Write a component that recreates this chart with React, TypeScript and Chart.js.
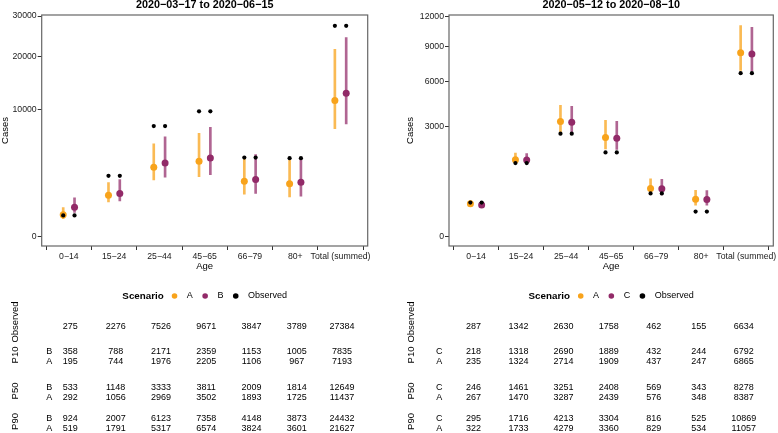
import React, { useEffect, useRef } from 'react';
import { Chart, registerables, LinearScale } from 'chart.js';

// ---------- data ----------
const categories = ['0−14', '15−24', '25−44', '45−65', '66−79', '80+', 'Total (summed)'];

const leftTitle = '2020−03−17 to 2020−06−15';
const leftScenarioNames = ['A', 'B'];
const leftObserved = [275, 2276, 7526, 9671, 3847, 3789, 27384];
const leftP10B = [358, 788, 2171, 2359, 1153, 1005, 7835];
const leftP10A = [195, 744, 1976, 2205, 1106, 967, 7193];
const leftP50B = [533, 1148, 3333, 3811, 2009, 1814, 12649];
const leftP50A = [292, 1056, 2969, 3502, 1893, 1725, 11437];
const leftP90B = [924, 2007, 6123, 7358, 4148, 3873, 24432];
const leftP90A = [519, 1791, 5317, 6574, 3824, 3601, 21627];
const leftYTicks = [0, 10000, 20000, 30000];

const rightTitle = '2020−05−12 to 2020−08−10';
const rightScenarioNames = ['A', 'C'];
const rightObserved = [287, 1342, 2630, 1758, 462, 155, 6634];
const rightP10C = [218, 1318, 2690, 1889, 432, 244, 6792];
const rightP10A = [235, 1324, 2714, 1909, 437, 247, 6865];
const rightP50C = [246, 1461, 3251, 2408, 569, 343, 8278];
const rightP50A = [267, 1470, 3287, 2439, 576, 348, 8387];
const rightP90C = [295, 1716, 4213, 3304, 816, 525, 10869];
const rightP90A = [322, 1733, 4279, 3360, 829, 534, 11057];
const rightYTicks = [0, 3000, 6000, 9000, 12000];

// ---------- styles ----------
const FONT = '"Liberation Sans", Arial, Helvetica, sans-serif';
const ORANGE = '#F8A31B';
const PURPLE = '#922A68';
const ORANGE_LINE = 'rgba(248,163,27,0.75)';
const PURPLE_LINE = 'rgba(146,42,104,0.72)';
const DODGE = 0.125;

// ---------- sqrt scale ----------
const sq = (v: number) => Math.sign(v) * Math.sqrt(Math.abs(v));
class SqrtScale extends LinearScale {
  static id = 'sqrt';
  static defaults = (LinearScale as any).defaults;
  getPixelForValue(value: number) {
    const a = sq(this.min);
    const b = sq(this.max);
    return this.getPixelForDecimal((sq(value) - a) / (b - a));
  }
  getValueForPixel(pixel: number) {
    const a = sq(this.min);
    const b = sq(this.max);
    const s = a + this.getDecimalForPixel(pixel) * (b - a);
    return Math.sign(s) * s * s;
  }
}
Chart.register(...registerables, SqrtScale as any);

type Panel = {
  title: string;
  names: string[]; // [orange name, purple name]
  observed: number[];
  p10: [number[], number[]]; // [orange, purple]
  p50: [number[], number[]];
  p90: [number[], number[]];
  yTicks: number[];
  yMin: number;
  yMax: number;
  yAxisWidth: number;
  padRight: number;
  yTitlePad: number;
  rowLabelX: number;
  letterX: number;
  colOffset: number;
};

const leftPanel: Panel = {
  title: leftTitle,
  names: leftScenarioNames,
  observed: leftObserved,
  p10: [leftP10A, leftP10B],
  p50: [leftP50A, leftP50B],
  p90: [leftP90A, leftP90B],
  yTicks: leftYTicks,
  yMin: -55,
  yMax: 30280,
  yAxisWidth: 41.7,
  padRight: 21.3,
  yTitlePad: 0,
  rowLabelX: 15,
  letterX: 49.3,
  colOffset: 1.5,
};

const rightPanel: Panel = {
  title: rightTitle,
  names: rightScenarioNames,
  observed: rightObserved,
  p10: [rightP10A, rightP10C],
  p50: [rightP50A, rightP50C],
  p90: [rightP90A, rightP90C],
  yTicks: rightYTicks,
  yMin: -22,
  yMax: 12200,
  yAxisWidth: 60,
  padRight: 4.7,
  yTitlePad: 15.3,
  rowLabelX: 22.7,
  letterX: 50.3,
  colOffset: -2.5,
};

function extrasPlugin(p: Panel) {
  return {
    id: 'panelExtras',
    afterDraw(chart: any) {
      const ctx: CanvasRenderingContext2D = chart.ctx;
      const ca = chart.chartArea;
      const xs = chart.scales.x;
      ctx.save();
      // panel border
      ctx.strokeStyle = '#666';
      ctx.lineWidth = 1.2;
      ctx.strokeRect(ca.left, ca.top, ca.right - ca.left, ca.bottom - ca.top);

      // title
      const cx = (ca.left + ca.right) / 2;
      ctx.fillStyle = '#000';
      ctx.textAlign = 'center';
      ctx.textBaseline = 'middle';
      ctx.font = `bold 10.8px ${FONT}`;
      ctx.fillText(p.title, cx, 5.5);

      // legend
      const ly = 296;
      const items = [
        { color: ORANGE, text: p.names[0] },
        { color: PURPLE, text: p.names[1] },
        { color: '#000', text: 'Observed' },
      ];
      ctx.font = `bold 9.8px ${FONT}`;
      const titleW = ctx.measureText('Scenario').width;
      ctx.font = `9px ${FONT}`;
      const r = 2.8;
      const gapTitle = 8;
      const gapKeyText = 9.5;
      const gapItem = 9.5;
      let total = titleW + gapTitle;
      items.forEach((it, i) => {
        total += 2 * r + gapKeyText + ctx.measureText(it.text).width;
        if (i < items.length - 1) total += gapItem;
      });
      let x = cx - total / 2;
      ctx.textAlign = 'left';
      ctx.font = `bold 9.8px ${FONT}`;
      ctx.fillText('Scenario', x, ly);
      x += titleW + gapTitle;
      ctx.font = `9px ${FONT}`;
      items.forEach((it) => {
        ctx.fillStyle = it.color;
        ctx.beginPath();
        ctx.arc(x + r, ly, r, 0, Math.PI * 2);
        ctx.fill();
        x += 2 * r + gapKeyText;
        ctx.fillStyle = '#000';
        ctx.fillText(it.text, x, ly);
        x += ctx.measureText(it.text).width + gapItem;
      });

      // table
      const groups = [
        { label: 'Observed', ly: 322, rows: [{ letter: '', y: 326.7, values: p.observed }] },
        {
          label: 'P10', ly: 355,
          rows: [
            { letter: p.names[1], y: 351.7, values: p.p10[1] },
            { letter: p.names[0], y: 361.7, values: p.p10[0] },
          ],
        },
        {
          label: 'P50', ly: 391,
          rows: [
            { letter: p.names[1], y: 387.7, values: p.p50[1] },
            { letter: p.names[0], y: 397.7, values: p.p50[0] },
          ],
        },
        {
          label: 'P90', ly: 421.5,
          rows: [
            { letter: p.names[1], y: 418.3, values: p.p90[1] },
            { letter: p.names[0], y: 428.3, values: p.p90[0] },
          ],
        },
      ];
      ctx.fillStyle = '#000';
      ctx.font = `9px ${FONT}`;
      ctx.textAlign = 'center';
      groups.forEach((g) => {
        ctx.save();
        ctx.translate(p.rowLabelX, g.ly);
        ctx.rotate(-Math.PI / 2);
        ctx.font = `9.5px ${FONT}`;
        ctx.fillText(g.label, 0, 0);
        ctx.restore();
        g.rows.forEach((row) => {
          if (row.letter) ctx.fillText(row.letter, p.letterX, row.y);
          row.values.forEach((v, i) => {
            ctx.fillText(String(v), xs.getPixelForValue(i) + p.colOffset, row.y);
          });
        });
      });
      ctx.restore();
    },
  };
}

function makeConfig(p: Panel): any {
  const idx = categories.map((_, i) => i);
  const bar = (k: number, color: string, off: number) => ({
    type: 'bar',
    data: idx.map((i) => ({ x: i + off, y: [p.p10[k][i], p.p90[k][i]] })),
    backgroundColor: color,
    borderWidth: 0,
    barThickness: 2,
    grouped: false,
    order: 3,
  });
  const pts = (k: number, color: string, off: number) => ({
    type: 'scatter',
    data: idx.map((i) => ({ x: i + off, y: p.p50[k][i] })),
    backgroundColor: color,
    borderWidth: 0,
    pointRadius: 3.5,
    order: 2,
  });
  const obs = (off: number) => ({
    type: 'scatter',
    data: idx.map((i) => ({ x: i + off, y: p.observed[i] })),
    backgroundColor: '#000',
    borderWidth: 0,
    pointRadius: 2.1,
    order: 1,
  });
  return {
    type: 'scatter',
    data: {
      datasets: [
        obs(-DODGE),
        obs(DODGE),
        pts(0, ORANGE, -DODGE),
        pts(1, PURPLE, DODGE),
        bar(0, ORANGE_LINE, -DODGE),
        bar(1, PURPLE_LINE, DODGE),
      ],
    },
    options: {
      responsive: false,
      animation: false,
      events: [],
      layout: { padding: { top: 15, right: p.padRight, bottom: 161, left: 0 } },
      plugins: { legend: { display: false }, tooltip: { enabled: false }, title: { display: false } },
      scales: {
        x: {
          type: 'linear',
          min: -0.6,
          max: 6.6,
          offset: false,
          afterBuildTicks: (s: any) => {
            s.ticks = idx.map((v) => ({ value: v }));
          },
          afterFit: (s: any) => {
            s.height = 26;
          },
          ticks: {
            callback: (v: any) => categories[Math.round(v)] ?? '',
            autoSkip: false,
            maxRotation: 0,
            minRotation: 0,
            padding: 1,
            color: '#1a1a1a',
            font: { family: FONT, size: 8.7 },
          },
          grid: { display: true, drawOnChartArea: false, drawTicks: true, tickLength: 4, color: '#333', lineWidth: 1 },
          border: { display: false },
          title: { display: true, text: 'Age', color: '#000', font: { family: FONT, size: 9.5 }, padding: 0 },
        },
        y: {
          type: 'sqrt',
          min: p.yMin,
          max: p.yMax,
          afterBuildTicks: (s: any) => {
            s.ticks = p.yTicks.map((v) => ({ value: v }));
          },
          afterFit: (s: any) => {
            s.width = p.yAxisWidth;
          },
          ticks: {
            callback: (v: any) => String(v),
            padding: 1,
            color: '#1a1a1a',
            font: { family: FONT, size: 8.7 },
          },
          grid: { display: true, drawOnChartArea: false, drawTicks: true, tickLength: 4, color: '#333', lineWidth: 1 },
          border: { display: false },
          title: {
            display: true,
            text: 'Cases',
            color: '#000',
            font: { family: FONT, size: 9.5 },
            padding: { top: p.yTitlePad, bottom: 0 },
          },
        },
      },
    },
    plugins: [extrasPlugin(p)],
  };
}

function PanelChart({ panel }: { panel: Panel }) {
  const ref = useRef<HTMLCanvasElement | null>(null);
  useEffect(() => {
    if (!ref.current) return;
    const chart = new Chart(ref.current, makeConfig(panel));
    return () => chart.destroy();
  }, [panel]);
  return <canvas ref={ref} width={389} height={433} style={{ width: 389, height: 433, display: 'block' }} />;
}

export default function App() {
  return (
    <div
      style={{
        position: 'fixed',
        left: 0,
        top: 0,
        width: 778,
        height: 433,
        background: '#fff',
        display: 'flex',
        flexDirection: 'row',
      }}
    >
      <PanelChart panel={leftPanel} />
      <PanelChart panel={rightPanel} />
    </div>
  );
}
